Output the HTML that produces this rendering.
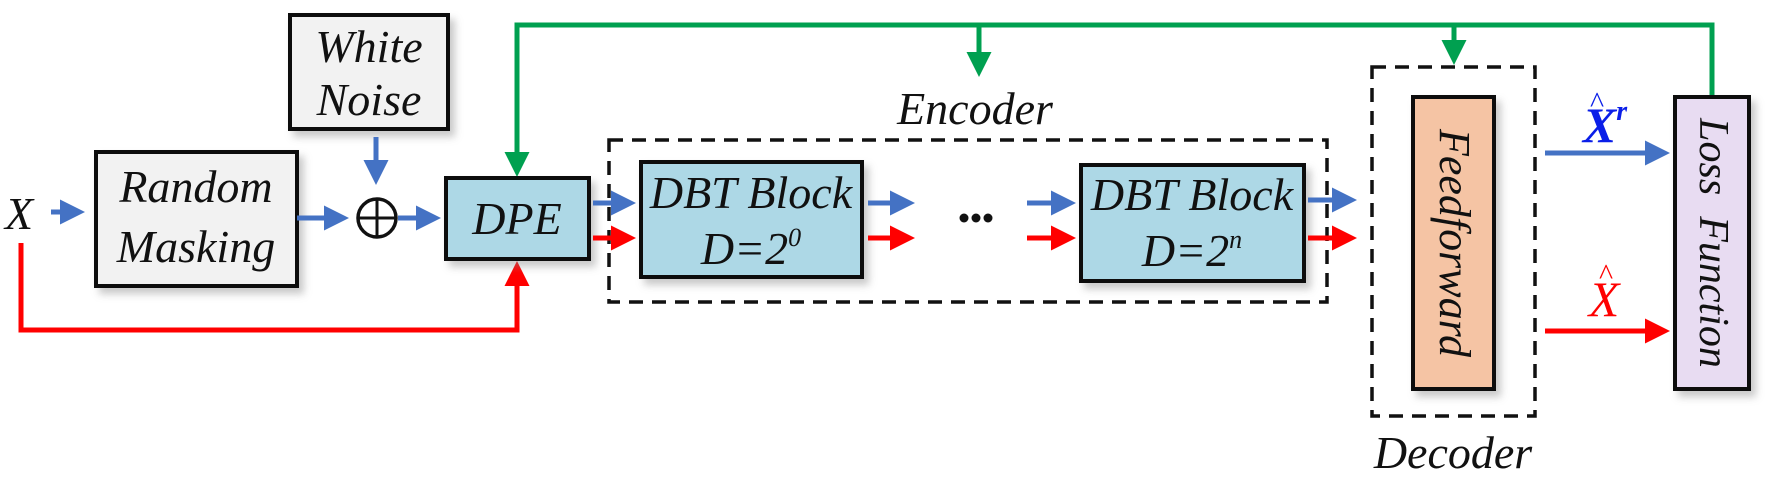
<!DOCTYPE html>
<html><head><meta charset="utf-8"><style>
html,body{margin:0;padding:0;background:#fff}
svg{display:block}
</style></head><body>
<svg width="1772" height="480" viewBox="0 0 1772 480" xmlns="http://www.w3.org/2000/svg">
<defs>
<filter id="sh" x="-20%" y="-20%" width="150%" height="150%"><feDropShadow dx="5" dy="6" stdDeviation="4" flood-color="#888" flood-opacity="0.45"/></filter>
<marker id="ab" markerWidth="5" markerHeight="5" refX="4" refY="2.5" orient="auto" markerUnits="strokeWidth"><path d="M0,0 L5,2.5 L0,5 z" fill="#4472c4"/></marker>
<marker id="ar" markerWidth="5" markerHeight="5" refX="4" refY="2.5" orient="auto" markerUnits="strokeWidth"><path d="M0,0 L5,2.5 L0,5 z" fill="#f00"/></marker>
<marker id="ag" markerWidth="5" markerHeight="5" refX="4" refY="2.5" orient="auto" markerUnits="strokeWidth"><path d="M0,0 L5,2.5 L0,5 z" fill="#00a050"/></marker>
</defs>

<g stroke="#00a050" stroke-width="5" fill="none">
<polyline points="1712,97 1712,25 517,25 517,172"  marker-end="url(#ag)"/>
<line x1="979" y1="25" x2="979" y2="72" marker-end="url(#ag)"/>
<line x1="1454" y1="25" x2="1454" y2="60" marker-end="url(#ag)"/>
</g>
<polyline points="21,243 21,330 517,330 517,266" stroke="#f00" stroke-width="5" fill="none" marker-end="url(#ar)"/>

<g stroke="#111" stroke-width="4" filter="url(#sh)">
<rect x="290" y="15" width="158" height="114" fill="#f2f2f2"/>
<rect x="96" y="152" width="201" height="134" fill="#f2f2f2"/>
<rect x="446" y="178" width="143" height="81" fill="#add8e6"/>
<rect x="641" y="162" width="221" height="115" fill="#add8e6"/>
<rect x="1081" y="165" width="223" height="116" fill="#add8e6"/>
<rect x="1413" y="97" width="81" height="292" fill="#f5c4a4"/>
<rect x="1675" y="97" width="74" height="292" fill="#e8dcf2"/>
</g>
<rect x="609" y="140" width="718" height="162" fill="none" stroke="#111" stroke-width="3.5" stroke-dasharray="14,9"/>
<rect x="1372" y="67" width="163" height="349" fill="none" stroke="#111" stroke-width="3.5" stroke-dasharray="14,9"/>

<circle cx="377" cy="218" r="19" fill="#fff" stroke="#111" stroke-width="3.5"/>
<line x1="358" y1="218" x2="396" y2="218" stroke="#111" stroke-width="3"/>
<line x1="377" y1="199" x2="377" y2="237" stroke="#111" stroke-width="3"/>

<g stroke="#4472c4" stroke-width="5" fill="none">
<line x1="51" y1="212" x2="80" y2="212" marker-end="url(#ab)"/>
<line x1="297" y1="218" x2="344" y2="218" marker-end="url(#ab)"/>
<line x1="376" y1="137" x2="376" y2="180" marker-end="url(#ab)"/>
<line x1="398" y1="218" x2="436" y2="218" marker-end="url(#ab)"/>
<line x1="593" y1="203" x2="631" y2="203" marker-end="url(#ab)"/>
<line x1="868" y1="203" x2="910" y2="203" marker-end="url(#ab)"/>
<line x1="1027" y1="203" x2="1071" y2="203" marker-end="url(#ab)"/>
<line x1="1308" y1="200" x2="1352" y2="200" marker-end="url(#ab)"/>
<line x1="1545" y1="153" x2="1665" y2="153" marker-end="url(#ab)"/>
</g>
<g stroke="#f00" stroke-width="5" fill="none">
<line x1="593" y1="238" x2="631" y2="238" marker-end="url(#ar)"/>
<line x1="868" y1="238" x2="910" y2="238" marker-end="url(#ar)"/>
<line x1="1027" y1="238" x2="1071" y2="238" marker-end="url(#ar)"/>
<line x1="1308" y1="238" x2="1352" y2="238" marker-end="url(#ar)"/>
<line x1="1545" y1="331" x2="1665" y2="331" marker-end="url(#ar)"/>
</g>
<g fill="#111"><circle cx="964" cy="218" r="4.5"/><circle cx="976" cy="218" r="4.5"/><circle cx="988" cy="218" r="4.5"/></g>

<g font-family="'Liberation Serif', 'DejaVu Serif', serif" font-style="italic" fill="#111" font-size="46" text-anchor="middle">
<text x="19" y="229">X</text>
<text x="369" y="62">White</text>
<text x="369" y="115">Noise</text>
<text x="196" y="202">Random</text>
<text x="196" y="262">Masking</text>
<text x="517" y="234">DPE</text>
<text x="751" y="208">DBT Block</text>
<text x="751" y="264">D=2<tspan font-size="26" dy="-18">0</tspan></text>
<text x="1192" y="210">DBT Block</text>
<text x="1192" y="266">D=2<tspan font-size="26" dy="-18">n</tspan></text>
<text x="975" y="124">Encoder</text>
<text x="1453" y="468">Decoder</text>
<text transform="translate(1440,243) rotate(90)" font-size="44">Feedforward</text>
<text transform="translate(1700,243) rotate(90)" font-size="42">Loss&#160; Function</text>
<text x="1605" y="142" font-weight="bold" font-size="50" fill="#0a1ee8">X<tspan font-size="28" dy="-22">r</tspan></text>
<text x="1597" y="112" font-size="30" font-style="normal" fill="#0a1ee8">^</text>
<text x="1604" y="316" font-size="50" fill="#f00">X</text>
<text x="1606" y="284" font-size="30" font-style="normal" fill="#f00">^</text>
</g>
</svg>
</body></html>
